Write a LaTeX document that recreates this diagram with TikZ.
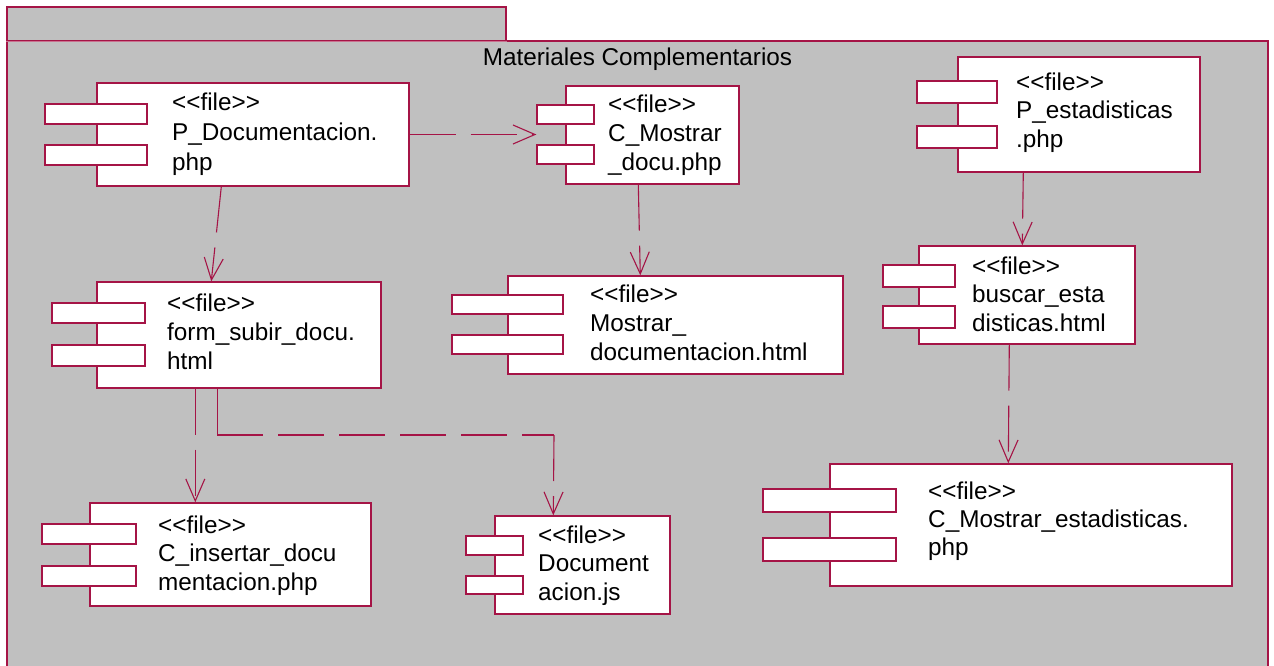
\documentclass[tikz,border=0pt]{standalone}
\usepackage{fontspec}
\newfontfamily\lfont[Ligatures=TeXOff]{Liberation Sans}
\usetikzlibrary{arrows.meta,fit}
\definecolor{crim}{RGB}{165,20,70}
\definecolor{pkggray}{RGB}{192,192,192}
\newcommand\ftxt[6]{%
  \node[txt] (#1a) at (#2,#3) {<<file>>};
  \node[txt] (#1b) at (#2,#3+#4) {#5};
  \node[txt] (#1c) at (#2,#3+2*#4) {#6};}
\begin{document}
\begin{tikzpicture}[x=1pt,y=-1pt,
  pkg/.style={draw=crim, fill=pkggray, line width=1.3pt, inner sep=0pt, rectangle},
  comp/.style={draw=crim, fill=white, line width=1.4pt, inner sep=0pt, rectangle},
  port/.style={draw=crim, fill=white, line width=1.3pt, inner sep=0pt, rectangle},
  txt/.style={anchor=base west, inner sep=0pt, font=\lfont\fontsize{24.3}{29}\selectfont},
  depline/.style={draw=crim, line width=1.1pt, dash pattern=on 46pt off 15pt},
  dep/.style={depline, -{Straight Barb[length=22pt,width=19pt]}}]
\useasboundingbox (0,0) rectangle (1274,666);
\clip (0,0) rectangle (1274,666);
% package
\node[pkg, fit={(7,7) (506,41)}] (tab) {};
\node[pkg, fit={(7,41) (1268,720)}] (body) {};
\draw[crim!60, line width=1pt] (tab.south west) -- (tab.south east);
\node[anchor=base, inner sep=0pt, font=\lfont\fontsize{24.3}{29}\selectfont] (title) at (637.5,66) {Materiales Complementarios};

% P_Documentacion
\node[comp, fit={(97,83) (409,186)}] (pdoc) {};
\node[port, fit={(45,104) (147,124)}] (pdocp1) {};
\node[port, fit={(45,145) (147,165)}] (pdocp2) {};
\ftxt{pdoc}{172}{111}{29.5}{P\_Documentacion.}{php}

% C_Mostrar_docu
\node[comp, fit={(566,86) (739,184)}] (cmos) {};
\node[port, fit={(537,105) (594,124)}] (cmosp1) {};
\node[port, fit={(537,145) (594,164)}] (cmosp2) {};
\ftxt{cmos}{608}{113}{28.5}{C\_Mostrar}{\_docu.php}

% P_estadisticas
\node[comp, fit={(958,57) (1200,172)}] (pest) {};
\node[port, fit={(917,81) (997,103)}] (pestp1) {};
\node[port, fit={(917,126) (997,148)}] (pestp2) {};
\ftxt{pest}{1016}{91}{28}{P\_estadisticas}{.php}

% form_subir_docu
\node[comp, fit={(97,282) (381,388)}] (form) {};
\node[port, fit={(52,303) (145,323)}] (formp1) {};
\node[port, fit={(52,345) (145,366)}] (formp2) {};
\ftxt{form}{167}{311}{29}{form\_subir\_docu.}{html}

% Mostrar_documentacion
\node[comp, fit={(508,276) (843,374)}] (mdoc) {};
\node[port, fit={(452,295) (563,314)}] (mdocp1) {};
\node[port, fit={(452,335) (563,354)}] (mdocp2) {};
\ftxt{mdoc}{590}{302}{29}{Mostrar\_}{documentacion.html}

% buscar_estadisticas
\node[comp, fit={(919,246) (1135,344)}] (busc) {};
\node[port, fit={(883,265) (955,287)}] (buscp1) {};
\node[port, fit={(883,306) (955,328)}] (buscp2) {};
\ftxt{busc}{972}{274}{28.5}{buscar\_esta}{disticas.html}

% C_insertar_documentacion
\node[comp, fit={(90,503) (371,606)}] (cins) {};
\node[port, fit={(42,524) (136,544)}] (cinsp1) {};
\node[port, fit={(42,566) (136,586)}] (cinsp2) {};
\ftxt{cins}{158}{533}{28.5}{C\_insertar\_docu}{mentacion.php}

% Documentacion.js
\node[comp, fit={(495,516) (670,614)}] (djs) {};
\node[port, fit={(466,536) (523,555)}] (djsp1) {};
\node[port, fit={(466,576) (523,594)}] (djsp2) {};
\ftxt{djs}{538}{543}{28.5}{Document}{acion.js}

% C_Mostrar_estadisticas
\node[comp, fit={(830,464) (1232,586)}] (cmest) {};
\node[port, fit={(763,489) (896,512)}] (cmestp1) {};
\node[port, fit={(763,538) (896,561)}] (cmestp2) {};
\ftxt{cmest}{928}{499}{28}{C\_Mostrar\_estadisticas.}{php}

% dependencies
\draw[dep] (pdoc.east) -- (cmosp1.west |- pdoc.east);
\draw[dep] ([xshift=125pt]pdoc.south west) -- ([xshift=115pt]form.north west);
\draw[dep] ([xshift=73pt]cmos.south west) -- ([xshift=133pt]mdoc.north west);
\draw[dep] ([xshift=66pt]pest.south west) -- ([xshift=104pt]busc.north west);
\draw[dep] ([xshift=91pt]busc.south west) -- ([xshift=179pt]cmest.north west);
\draw[dep] ([xshift=99pt]form.south west) -- ([xshift=106pt]cins.north west);
\coordinate (fstart) at ([xshift=121pt]form.south west);
\coordinate (bend) at (554,435);
\coordinate (corner) at (fstart |- bend);
\draw[draw=crim, line width=1.1pt] (fstart) -- (corner);
\draw[depline] (corner) -- (bend);
\draw[dep] (bend) -- ([xshift=59pt]djs.north west);
\end{tikzpicture}
\end{document}
